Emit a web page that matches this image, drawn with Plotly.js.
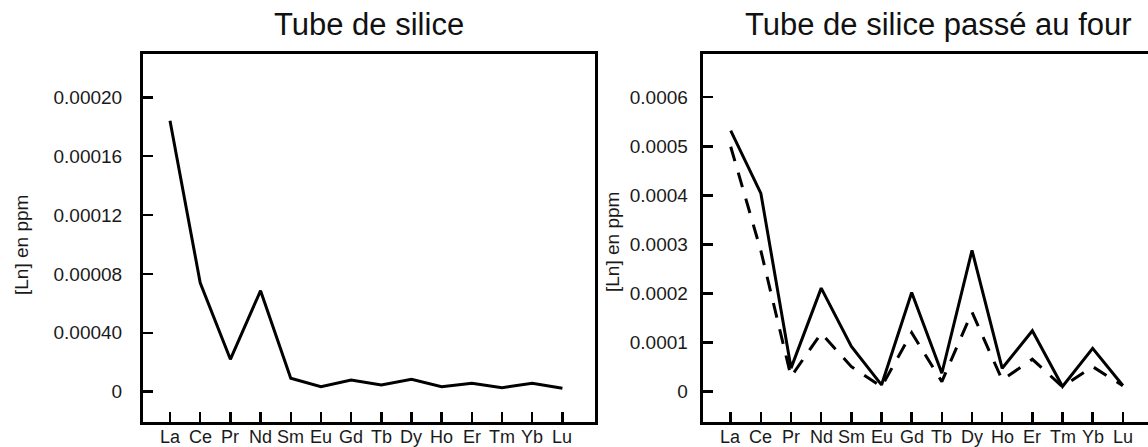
<!DOCTYPE html>
<html>
<head>
<meta charset="utf-8">
<script src="https://cdn.plot.ly/plotly-3.0.1.min.js"></script>
<style>
html,body{margin:0;padding:0;overflow:hidden;background:#fff;}
#chart{width:1158px;height:447px;}
</style>
</head>
<body>
<div id="chart"></div>
<script>
// Data
const elements = ["La","Ce","Pr","Nd","Sm","Eu","Gd","Tb","Dy","Ho","Er","Tm","Yb","Lu"];
const tubeSilice = [0.000184,0.000074,0.000022,0.0000686,0.0000091,0.0000034,0.0000079,0.0000046,0.0000084,0.0000034,0.0000057,0.0000027,0.0000057,0.0000023];
const tubeFourSolid = [0.000532,0.000404,0.000048,0.000211,0.000092,0.0000137,0.000202,0.0000375,0.000288,0.0000477,0.000124,0.0000105,0.0000884,0.0000125];
const tubeFourDashed = [0.000499,0.000287,0.0000306,0.000119,0.000051,0.0000102,0.00012,0.0000204,0.000162,0.0000238,0.000066,0.00001,0.000051,0.000012];
const leftTickVals = [0,0.00004,0.00008,0.00012,0.00016,0.00020];
const leftTickText = ["0","0.00040","0.00008","0.00012","0.00016","0.00020"];
const rightTickVals = [0,0.0001,0.0002,0.0003,0.0004,0.0005,0.0006];
const rightTickText = ["0","0.0001","0.0002","0.0003","0.0004","0.0005","0.0006"];
const titles = ["Tube de silice","Tube de silice passé au four"];
const yTitle = "[Ln] en ppm";

const W = 1158, H = 447;
const idx = elements.map((_, i) => i);
const lineStyle = {color:"#000", width:3};

const traces = [
  {x: idx, y: tubeSilice, type:"scatter", mode:"lines", line: lineStyle, xaxis:"x", yaxis:"y", hoverinfo:"skip"},
  {x: idx, y: tubeFourSolid, type:"scatter", mode:"lines", line: lineStyle, xaxis:"x2", yaxis:"y2", hoverinfo:"skip"},
  {x: idx, y: tubeFourDashed, type:"scatter", mode:"lines", line: {color:"#000", width:3, dash:"15px,12px"}, xaxis:"x2", yaxis:"y2", hoverinfo:"skip"}
];

const font = {family:"Liberation Sans, Arial, sans-serif", color:"#1a1a1a"};
const yDom = [(H-422)/H, (H-54)/H];

function xAxis(domain, range, anchor){
  return {
    domain: domain, range: range, anchor: anchor,
    tickmode:"array", tickvals: idx, ticktext: elements,
    showticklabels:false,
    ticks:"inside", ticklen:10, tickwidth:2.5, tickcolor:"#000",
    showline:true, linewidth:3, linecolor:"#000", mirror:true,
    showgrid:false, zeroline:false,
    fixedrange:true
  };
}
function yAxis(range, vals, text, standoff, anchor){
  return {
    domain: yDom, range: range, anchor: anchor,
    tickmode:"array", tickvals: vals, ticktext: text,
    ticks:"inside", ticklen:10, tickwidth:2.5, tickcolor:"#000",
    showline:true, linewidth:3, linecolor:"#000", mirror:true,
    showgrid:false, zeroline:false,
    ticklabelstandoff: standoff,
    tickfont:{family:font.family, size:19, color:font.color},
    fixedrange:true
  };
}

// category labels under each x axis, placed from the elements array
const xLabelAnnots = [];
["x","x2"].forEach(function(xr){
  elements.forEach(function(el, i){
    xLabelAnnots.push({text: el, xref: xr, yref:"paper", x: i, y:(H-436.5)/H,
      xanchor:"center", yanchor:"middle", showarrow:false,
      font:{family:font.family, size:18, color:font.color}});
  });
});

const layout = {
  width: W, height: H,
  margin:{l:0,r:0,t:0,b:0},
  paper_bgcolor:"#fff", plot_bgcolor:"#fff",
  showlegend:false,
  font: font,
  xaxis: xAxis([143/W, 595/W], [-0.895, 14.08], "y"),
  yaxis: yAxis([-0.0000206, 0.0002294], leftTickVals, leftTickText, 14, "x"),
  xaxis2: xAxis([702.7/W, 1155.4/W], [-0.929, 14.08], "y2"),
  yaxis2: yAxis([-0.0000618, 0.000688], rightTickVals, rightTickText, 8, "x2"),
  annotations: [
    {text: titles[0], xref:"paper", yref:"paper", x:368.5/W, y:(H-25)/H, xanchor:"center", yanchor:"middle", showarrow:false, font:{family:font.family, size:31, color:"#111"}},
    {text: titles[1], xref:"paper", yref:"paper", x:938/W, y:(H-25)/H, xanchor:"center", yanchor:"middle", showarrow:false, font:{family:font.family, size:31, color:"#111"}},
    {text: yTitle, xref:"paper", yref:"paper", x:21/W, y:(H-245)/H, xanchor:"center", yanchor:"middle", textangle:-90, showarrow:false, font:{family:font.family, size:19, color:font.color}},
    {text: yTitle, xref:"paper", yref:"paper", x:613/W, y:(H-242)/H, xanchor:"center", yanchor:"middle", textangle:-90, showarrow:false, font:{family:font.family, size:19, color:font.color}}
  ].concat(xLabelAnnots)
};

Plotly.newPlot("chart", traces, layout, {displayModeBar:false, staticPlot:true});
</script>
</body>
</html>
